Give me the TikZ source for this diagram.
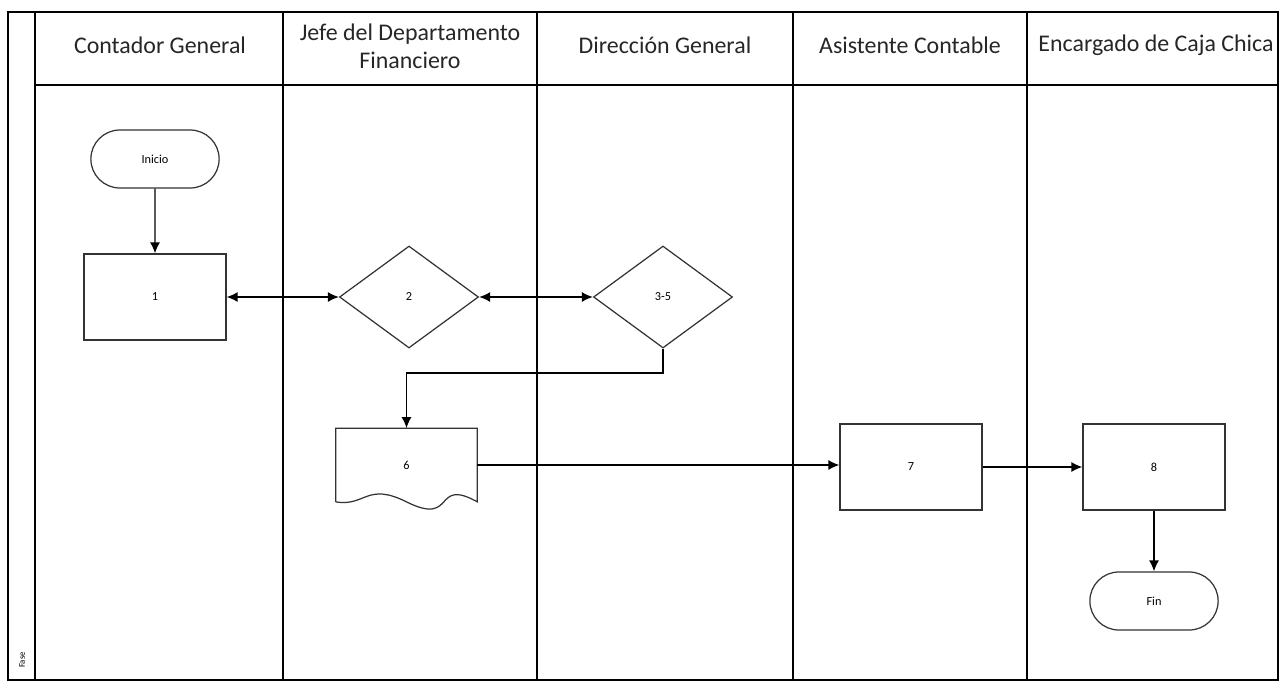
\documentclass[tikz,border=0pt]{standalone}
\usepackage{fontspec}
\setmainfont{Carlito}
\usepackage{tikz}
\usetikzlibrary{arrows.meta,shapes.geometric,shapes.misc}
\tikzstyle{arrow}=[draw=black, line width=0.8pt, >={Latex[length=2.2mm,width=2mm]}]
\tikzstyle{lane}=[draw=black, line width=0.9pt]
\tikzstyle{lanetitle}=[font=\fontsize{13.6}{16}\selectfont, text=black!85, align=center]
\tikzstyle{proc}=[draw=black!80, line width=0.7pt, rectangle, minimum width=2.84cm, minimum height=1.72cm, font=\fontsize{7}{8}\selectfont]
\tikzstyle{decis}=[draw=black!80, line width=0.7pt, diamond, aspect=1.36, minimum width=2.78cm, minimum height=2.04cm, inner sep=0pt, font=\fontsize{7}{8}\selectfont]
\tikzstyle{term}=[draw=black!80, line width=0.7pt, rounded rectangle, minimum width=2.8cm, minimum height=1.16cm, font=\fontsize{7}{8}\selectfont]
\tikzstyle{docu}=[rectangle, minimum width=2.82cm, minimum height=1.46cm, font=\fontsize{7}{8}\selectfont]

\begin{document}
\begin{tikzpicture}
		   \useasboundingbox (0,0) rectangle (25.6,-13.68);
		   % marco y carriles
		   \draw[lane] (0.16,-0.24) rectangle (25.56,-13.6);
		   \draw[lane] (0.7,-0.24) -- (0.7,-13.6);
		   \draw[lane] (0.7,-1.7) -- (25.56,-1.7);
		   \foreach \x in {5.66,10.74,15.86,20.54}
		     \draw[lane] (\x,-0.24) -- (\x,-13.6);
		   \node (fase) at (0.44,-13.2)[rotate=90, font=\fontsize{5}{6}\selectfont] {Fase};
		   % encabezados
		   \node (hcont) at (3.2,-0.9)[lanetitle] {Contador General};
		   \node (hjefe) at (8.2,-0.92)[lanetitle] {Jefe del Departamento\\Financiero};
		   \node (hdir) at (13.3,-0.9)[lanetitle] {Dirección General};
		   \node (hasis) at (18.2,-0.9)[lanetitle] {Asistente Contable};
		   \node (hcaja) at (23.12,-0.9)[lanetitle] {Encargado de Caja Chica};
		   % pasos
		   \node (inicio) at (3.1,-3.18)[term] {Inicio};
		   \node (n1) at (3.1,-5.94)[proc] {1};
		   \node (d2) at (8.18,-5.94)[decis] {2};
		   \node (d35) at (13.26,-5.94)[decis] {3-5};
		   \node (doc6) at (8.13,-9.3)[docu] {6};
		   \draw[draw=black!80, line width=0.7pt] (doc6.south west) -- (doc6.north west) -- (doc6.north east) -- (doc6.south east)
		     .. controls +(-0.9,0.5) and +(1.0,-0.5) .. (doc6.south) .. controls +(-0.8,0.4) and +(0.6,-0.1) .. (doc6.south west);
		   \node (n7) at (18.22,-9.34)[proc] {7};
		   \node (n8) at (23.08,-9.34)[proc] {8};
		   \node (fin) at (23.08,-12.02)[term] {Fin};
		   \coordinate (bend6) at (8.13,-7.46);
		   % conectores
		   \draw[arrow,->] (inicio) -- (n1);
		   \draw[arrow,<->] (n1.east) -- (d2.west);
		   \draw[arrow,<->] (d2.east) -- (d35.west);
		   \draw[arrow,->] (d35.south) |- (bend6) -- (doc6.north);
		   \draw[arrow,->] (doc6.east) -- (doc6.east -| n7.west);
		   \draw[arrow,->] (n7.east) -- (n8.west);
		   \draw[arrow,->] (n8.south) -- (fin.north);
	   \end{tikzpicture}
\end{document}
